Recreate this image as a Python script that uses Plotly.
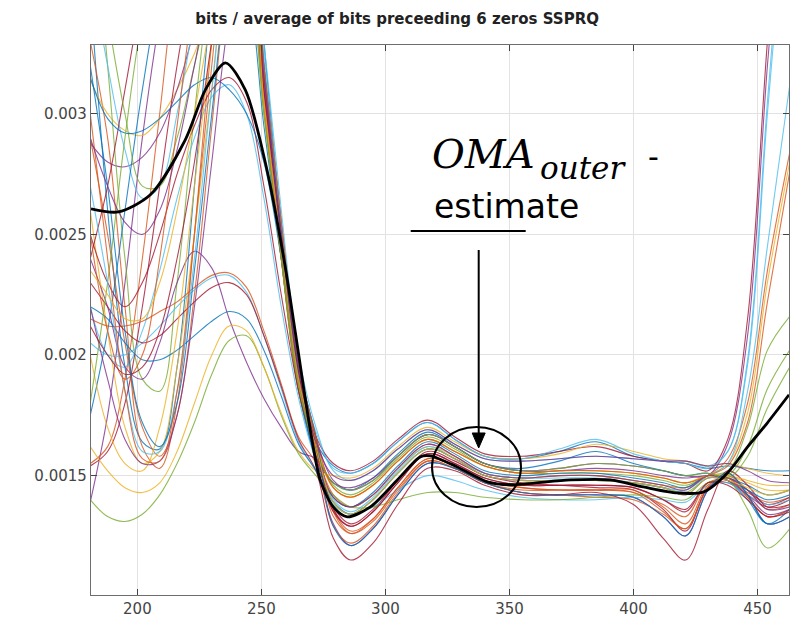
import plotly.graph_objects as go

# ---------------- data (y values in units of 1e-3) ----------------
SCALE = 1e-3
x_knots = [181, 188, 195, 202, 209, 216, 223, 230, 237, 244, 251, 258, 265,
           272, 279, 286, 295, 305, 317, 328, 340, 355, 370, 385, 400, 412, 421, 430, 438, 446, 454, 463]

c01 = [3.5, 2.6, 1.95, 1.64, 1.61, 1.95, 2.7, 3.5, 4.1, 4.2, 3.3, 2.55, 1.95, 1.64, 1.54, 1.51, 1.55, 1.64, 1.72, 1.65, 1.58, 1.57, 1.60, 1.64, 1.58, 1.56, 1.55, 1.53, 1.54, 1.53, 1.52, 1.52]
c02 = [3.3, 2.9, 2.2, 1.62, 1.53, 1.80, 2.5, 3.3, 3.9, 4.0, 3.2, 2.45, 1.9, 1.60, 1.36, 1.27, 1.32, 1.45, 1.57, 1.54, 1.48, 1.45, 1.44, 1.44, 1.43, 1.35, 1.28, 1.45, 1.49, 1.41, 1.33, 1.36]
c03 = [1.39, 1.75, 2.3, 2.9, 3.4, 3.8, 4.0, 4.1, 4.1, 3.9, 3.1, 2.45, 1.9, 1.65, 1.48, 1.44, 1.48, 1.58, 1.67, 1.62, 1.55, 1.52, 1.53, 1.55, 1.54, 1.52, 1.50, 1.50, 1.63, 2.08, 3.2, 4.3]
c04 = [1.55, 1.62, 1.9, 2.4, 3.0, 3.6, 3.9, 4.0, 4.0, 3.8, 3.05, 2.4, 1.85, 1.60, 1.42, 1.37, 1.42, 1.53, 1.63, 1.58, 1.51, 1.49, 1.50, 1.50, 1.48, 1.46, 1.45, 1.50, 1.57, 1.80, 2.35, 2.84]
c05 = [3.14, 3.0, 2.93, 2.91, 2.98, 3.1, 3.25, 3.45, 3.65, 3.7, 3.1, 2.5, 1.95, 1.62, 1.45, 1.41, 1.46, 1.56, 1.65, 1.60, 1.54, 1.51, 1.52, 1.52, 1.51, 1.49, 1.47, 1.50, 1.50, 1.47, 1.44, 1.44]
c06 = [2.88, 2.80, 2.78, 2.82, 2.92, 3.1, 3.35, 3.6, 3.8, 3.7, 3.05, 2.45, 1.9, 1.58, 1.30, 1.21, 1.28, 1.42, 1.55, 1.53, 1.47, 1.43, 1.42, 1.42, 1.41, 1.33, 1.25, 1.44, 1.51, 1.42, 1.30, 1.33]
c07 = [4.0, 3.2, 2.4, 1.9, 1.85, 2.3, 3.0, 3.6, 4.0, 4.0, 3.2, 2.5, 1.95, 1.64, 1.39, 1.34, 1.40, 1.51, 1.61, 1.57, 1.50, 1.48, 1.48, 1.48, 1.47, 1.45, 1.43, 1.49, 1.50, 1.62, 1.86, 2.02]
c08 = [3.6, 3.2, 2.85, 2.65, 2.7, 3.0, 3.4, 3.8, 4.1, 4.1, 3.3, 2.6, 2.0, 1.70, 1.52, 1.48, 1.52, 1.61, 1.69, 1.63, 1.57, 1.56, 1.57, 1.58, 1.57, 1.56, 1.56, 1.54, 1.60, 1.98, 3.05, 4.2]
c09 = [1.54, 1.60, 1.80, 2.2, 2.7, 3.2, 3.6, 3.9, 4.0, 3.9, 3.15, 2.5, 1.95, 1.66, 1.36, 1.29, 1.35, 1.47, 1.59, 1.55, 1.49, 1.46, 1.46, 1.46, 1.45, 1.40, 1.35, 1.47, 1.47, 1.42, 1.37, 1.40]
c10 = [1.75, 2.1, 2.6, 3.1, 3.5, 3.7, 3.7, 3.6, 3.6, 3.5, 2.95, 2.4, 1.85, 1.58, 1.47, 1.44, 1.49, 1.59, 1.68, 1.62, 1.55, 1.53, 1.56, 1.60, 1.55, 1.52, 1.50, 1.51, 1.48, 1.40, 1.30, 1.36]
c11 = [2.9, 2.5, 2.05, 1.7, 1.58, 1.75, 2.25, 2.95, 3.6, 3.9, 3.2, 2.55, 1.95, 1.66, 1.35, 1.26, 1.31, 1.44, 1.56, 1.53, 1.47, 1.44, 1.44, 1.44, 1.43, 1.38, 1.33, 1.47, 1.48, 1.43, 1.39, 1.41]
c12 = [2.6, 2.1, 1.7, 1.55, 1.6, 1.95, 2.5, 3.1, 3.6, 3.7, 3.05, 2.4, 1.87, 1.60, 1.41, 1.37, 1.42, 1.53, 1.62, 1.58, 1.51, 1.49, 1.50, 1.50, 1.48, 1.46, 1.45, 1.50, 1.55, 1.76, 2.30, 2.80]
c13 = [2.4, 2.7, 3.1, 3.5, 3.8, 3.9, 3.8, 3.7, 3.6, 3.6, 3.1, 2.5, 1.93, 1.66, 1.55, 1.52, 1.56, 1.65, 1.73, 1.66, 1.59, 1.58, 1.60, 1.62, 1.58, 1.56, 1.55, 1.52, 1.65, 2.15, 3.3, 4.4]
c14 = [3.8, 3.4, 3.0, 2.7, 2.7, 2.9, 3.2, 3.5, 3.7, 3.6, 3.0, 2.4, 1.85, 1.62, 1.46, 1.42, 1.47, 1.57, 1.66, 1.61, 1.54, 1.51, 1.51, 1.51, 1.50, 1.48, 1.46, 1.50, 1.52, 1.70, 2.02, 2.16]
c15 = [2.2, 2.0, 1.95, 2.1, 2.35, 2.65, 2.9, 3.07, 3.12, 3.0, 2.65, 2.2, 1.82, 1.56, 1.40, 1.35, 1.41, 1.52, 1.62, 1.57, 1.51, 1.49, 1.49, 1.49, 1.47, 1.45, 1.44, 1.50, 1.55, 1.85, 2.45, 3.12]
c16 = [2.5, 2.3, 2.2, 2.3, 2.5, 2.75, 2.95, 3.1, 3.15, 3.05, 2.7, 2.25, 1.85, 1.58, 1.37, 1.30, 1.36, 1.48, 1.60, 1.56, 1.50, 1.47, 1.46, 1.45, 1.44, 1.36, 1.27, 1.45, 1.49, 1.44, 1.38, 1.41]
c17 = [3.15, 2.98, 2.92, 2.93, 2.98, 3.05, 3.12, 3.15, 3.1, 3.0, 2.8, 2.4, 1.9, 1.56, 1.41, 1.37, 1.43, 1.54, 1.64, 1.59, 1.52, 1.50, 1.51, 1.51, 1.49, 1.47, 1.45, 1.50, 1.49, 1.46, 1.42, 1.44]
c18 = [2.15, 2.12, 2.12, 2.14, 2.18, 2.22, 2.28, 2.33, 2.34, 2.28, 2.10, 1.88, 1.66, 1.55, 1.29, 1.22, 1.29, 1.43, 1.56, 1.53, 1.47, 1.43, 1.42, 1.41, 1.40, 1.34, 1.28, 1.45, 1.50, 1.44, 1.36, 1.38]
c19 = [2.05, 2.0, 2.0, 2.05, 2.12, 2.2, 2.27, 2.32, 2.33, 2.26, 2.08, 1.86, 1.64, 1.52, 1.38, 1.34, 1.37, 1.44, 1.50, 1.48, 1.44, 1.41, 1.40, 1.40, 1.41, 1.40, 1.39, 1.46, 1.47, 1.42, 1.38, 1.40]
c20 = [2.40, 2.2, 1.95, 1.90, 2.05, 2.3, 2.43, 2.36, 2.15, 1.97, 1.82, 1.7, 1.6, 1.57, 1.47, 1.45, 1.49, 1.58, 1.67, 1.62, 1.55, 1.52, 1.52, 1.53, 1.52, 1.50, 1.49, 1.50, 1.49, 1.44, 1.36, 1.37]
c21 = [1.40, 1.33, 1.31, 1.34, 1.42, 1.55, 1.72, 1.92, 2.06, 2.08, 1.95, 1.75, 1.59, 1.50, 1.42, 1.37, 1.37, 1.40, 1.43, 1.43, 1.41, 1.40, 1.40, 1.41, 1.42, 1.41, 1.40, 1.47, 1.48, 1.36, 1.20, 1.28]
c22 = [1.62, 1.52, 1.45, 1.43, 1.47, 1.6, 1.8, 2.0, 2.12, 2.1, 1.95, 1.76, 1.6, 1.52, 1.50, 1.49, 1.53, 1.62, 1.70, 1.64, 1.58, 1.57, 1.59, 1.63, 1.60, 1.57, 1.56, 1.54, 1.55, 1.53, 1.51, 1.50]
c23 = [2.3, 2.2, 2.1, 2.05, 2.08, 2.15, 2.22, 2.28, 2.3, 2.25, 2.08, 1.87, 1.65, 1.52, 1.24, 1.15, 1.22, 1.38, 1.53, 1.52, 1.46, 1.42, 1.42, 1.43, 1.38, 1.24, 1.15, 1.36, 1.52, 1.46, 1.37, 1.38]
c24 = [2.2, 2.15, 2.05, 1.98, 1.98, 2.02, 2.08, 2.14, 2.18, 2.15, 2.02, 1.83, 1.63, 1.52, 1.39, 1.34, 1.40, 1.51, 1.61, 1.57, 1.50, 1.48, 1.48, 1.48, 1.47, 1.45, 1.42, 1.49, 1.48, 1.44, 1.40, 1.42]
c25 = [2.5, 2.1, 1.9, 2.0, 2.4, 2.95, 3.5, 3.9, 4.0, 3.8, 3.05, 2.4, 1.88, 1.62, 1.33, 1.26, 1.32, 1.45, 1.57, 1.54, 1.48, 1.45, 1.44, 1.44, 1.44, 1.37, 1.30, 1.46, 1.49, 1.41, 1.33, 1.36]
c26 = [2.0, 1.7, 1.55, 1.52, 1.7, 2.1, 2.7, 3.3, 3.8, 3.9, 3.2, 2.5, 1.95, 1.64, 1.45, 1.41, 1.46, 1.56, 1.65, 1.60, 1.54, 1.51, 1.52, 1.52, 1.51, 1.49, 1.47, 1.50, 1.50, 1.48, 1.46, 1.46]
c27 = [2.2, 1.9, 1.65, 1.55, 1.56, 1.75, 2.2, 2.8, 3.4, 3.7, 3.15, 2.5, 1.93, 1.62, 1.41, 1.37, 1.42, 1.53, 1.63, 1.58, 1.51, 1.49, 1.50, 1.50, 1.48, 1.46, 1.44, 1.50, 1.48, 1.42, 1.34, 1.36]
c28 = [1.8, 2.3, 2.9, 3.4, 3.7, 3.75, 3.6, 3.5, 3.5, 3.5, 3.0, 2.4, 1.88, 1.60, 1.47, 1.44, 1.48, 1.58, 1.67, 1.62, 1.55, 1.52, 1.53, 1.55, 1.54, 1.52, 1.50, 1.51, 1.49, 1.58, 1.78, 1.95]
c29 = [2.7, 2.3, 1.85, 1.6, 1.6, 1.85, 2.4, 3.1, 3.7, 3.9, 3.25, 2.55, 1.97, 1.68, 1.53, 1.51, 1.55, 1.64, 1.72, 1.65, 1.58, 1.57, 1.61, 1.65, 1.59, 1.56, 1.55, 1.53, 1.60, 1.96, 3.0, 4.1]
c30 = [2.12, 2.0, 1.92, 1.95, 2.1, 2.4, 2.8, 3.3, 3.7, 3.75, 3.1, 2.48, 1.93, 1.62, 1.35, 1.29, 1.35, 1.47, 1.59, 1.55, 1.49, 1.46, 1.46, 1.46, 1.45, 1.40, 1.36, 1.47, 1.46, 1.40, 1.33, 1.35]
c31 = [3.2, 2.7, 2.1, 1.72, 1.62, 1.8, 2.35, 3.0, 3.6, 3.85, 3.2, 2.5, 1.95, 1.66, 1.29, 1.21, 1.28, 1.42, 1.55, 1.53, 1.47, 1.43, 1.42, 1.42, 1.41, 1.33, 1.25, 1.44, 1.51, 1.42, 1.30, 1.33]
c32 = [3.0, 2.4, 1.85, 1.57, 1.56, 1.85, 2.5, 3.2, 3.8, 3.95, 3.2, 2.55, 1.97, 1.66, 1.45, 1.41, 1.46, 1.56, 1.65, 1.60, 1.54, 1.51, 1.52, 1.52, 1.51, 1.49, 1.47, 1.50, 1.54, 1.72, 2.22, 2.76]
c33 = [2.35, 2.25, 2.15, 2.15, 2.3, 2.6, 3.0, 3.4, 3.7, 3.7, 3.05, 2.45, 1.9, 1.62, 1.39, 1.34, 1.40, 1.51, 1.61, 1.57, 1.50, 1.48, 1.48, 1.48, 1.47, 1.45, 1.42, 1.49, 1.48, 1.45, 1.42, 1.44]
c34 = [2.9, 2.7, 2.55, 2.5, 2.6, 2.85, 3.2, 3.55, 3.8, 3.8, 3.15, 2.5, 1.95, 1.64, 1.50, 1.48, 1.52, 1.61, 1.69, 1.63, 1.57, 1.56, 1.57, 1.58, 1.57, 1.56, 1.56, 1.54, 1.55, 1.52, 1.48, 1.47]

# mean curve (black)
mean_x = [181.3, 192.3, 205.2, 219.3, 227.4, 235.5, 243.5, 251.6, 259.6, 263.7, 269.7, 273.7, 279.0, 284.6,
          293.9, 304.8, 314.1, 318.1, 329.0, 341.1, 350.4, 374.6, 390.7, 404.0, 417.7, 428.2, 437.9, 446.0,
          454.0, 462.7]
mean_y = [2.606, 2.593, 2.664, 2.892, 3.099, 3.211, 3.099, 2.797, 2.366, 2.092, 1.690, 1.482, 1.370, 1.329,
          1.370, 1.482, 1.578, 1.582, 1.536, 1.474, 1.462, 1.482, 1.482, 1.453, 1.428, 1.432, 1.511, 1.619,
          1.719, 1.835]

x_ticks = [200, 250, 300, 350, 400, 450]
y_ticks = [0.0015, 0.002, 0.0025, 0.003]
y_tick_labels = ["0.0015", "0.002", "0.0025", "0.003"]
title_text = "bits / average of bits preceeding 6 zeros SSPRQ"

# ---------------- styling ----------------
BLUE, ORANGE, YELLOW, PURPLE, GREEN, CYAN, RED = (
    "#0072BD", "#D95319", "#EDB120", "#7E2F8E", "#77AC30", "#4DBEEE", "#A2142F")
curves = [c01, c02, c03, c04, c05, c06, c07, c08, c09, c10, c11, c12, c13, c14, c15, c16, c17,
          c18, c19, c20, c21, c22, c23, c24, c25, c26, c27, c28, c29, c30, c31, c32, c33, c34]
curve_colors = [BLUE, ORANGE, PURPLE, ORANGE, YELLOW, PURPLE, GREEN, CYAN, RED, BLUE, ORANGE, YELLOW,
                RED, GREEN, CYAN, RED, BLUE, ORANGE, CYAN, PURPLE, GREEN, YELLOW, RED, BLUE, ORANGE,
                YELLOW, PURPLE, GREEN, CYAN, RED, BLUE, ORANGE, YELLOW, PURPLE]

W, H = 795, 634
ML, MR, MT, MB = 91, 6, 45, 39
PW, PH = W - ML - MR, H - MT - MB


def px(xp):
    return (xp - ML) / PW


def py(yp):
    return (H - MB - yp) / PH


fig = go.Figure()
for vals, col in zip(curves, curve_colors):
    fig.add_trace(go.Scatter(
        x=x_knots, y=[v * SCALE for v in vals], mode="lines",
        line=dict(color=col, width=1.1, shape="spline", smoothing=1.0),
        opacity=0.8, hoverinfo="skip", showlegend=False))

fig.add_trace(go.Scatter(
    x=mean_x, y=[v * SCALE for v in mean_y], mode="lines",
    line=dict(color="black", width=2.8, shape="spline", smoothing=0.8),
    hoverinfo="skip", showlegend=False))

axis_common = dict(showline=True, linecolor="#6e6e6e", linewidth=1.3, mirror="ticks",
                   ticks="inside", ticklen=6, tickcolor="#444", tickwidth=1.2,
                   showgrid=True, gridcolor="#e2e2e2", gridwidth=1, zeroline=False,
                   tickfont=dict(family="DejaVu Sans", size=15, color="#444"))

fig.update_layout(
    width=W, height=H,
    margin=dict(l=ML, r=MR, t=MT, b=MB),
    paper_bgcolor="white", plot_bgcolor="white",
    title=dict(text="<b>" + title_text + "</b>", x=px(439.7), xanchor="center",
               y=1 - 19 / H, yanchor="middle",
               font=dict(family="DejaVu Sans", size=15, color="#222")),
    xaxis=dict(range=[181.3, 462.7], tickvals=x_ticks, **axis_common),
    yaxis=dict(range=[0.001005, 0.003285], tickvals=y_ticks, ticktext=y_tick_labels, **axis_common),
)

# annotation texts: "OMA" with subscript "outer", a dash, and "estimate"
fig.add_annotation(xref="paper", yref="paper", x=px(536), y=py(130), xanchor="right", yanchor="top",
                   text="<i>OMA</i>", showarrow=False, borderpad=0,
                   font=dict(family="DejaVu Serif", size=40, color="black"))
fig.add_annotation(xref="paper", yref="paper", x=px(539), y=py(148.5), xanchor="left", yanchor="top",
                   text="<i>outer</i>", showarrow=False, borderpad=0,
                   font=dict(family="DejaVu Serif", size=31, color="black"))
fig.add_annotation(xref="paper", yref="paper", x=px(653), y=py(138), xanchor="center", yanchor="top",
                   text="-", showarrow=False, borderpad=0,
                   font=dict(family="DejaVu Sans", size=30, color="black"))
fig.add_annotation(xref="paper", yref="paper", x=px(433), y=py(186), xanchor="left", yanchor="top",
                   text="estimate", showarrow=False, borderpad=0,
                   font=dict(family="DejaVu Sans", size=33, color="black"))

# underline, ellipse and arrow (drawn as shapes)
fig.add_shape(type="line", xref="paper", yref="paper", x0=px(410.7), x1=px(525.7), y0=py(231), y1=py(231),
              line=dict(color="black", width=2))
fig.add_shape(type="circle", xref="paper", yref="paper", x0=px(432), x1=px(521), y0=py(507), y1=py(427),
              line=dict(color="black", width=2))
fig.add_shape(type="line", xref="paper", yref="paper", x0=px(478.7), x1=px(478.7), y0=py(250), y1=py(436),
              line=dict(color="black", width=2))
fig.add_shape(type="path", xref="paper", yref="paper",
              path="M {:.5f} {:.5f} L {:.5f} {:.5f} L {:.5f} {:.5f} Z".format(
                  px(478.7), py(448), px(472.2), py(433), px(485.2), py(433)),
              line=dict(color="black", width=1), fillcolor="black")

fig.write_html("out.html")
